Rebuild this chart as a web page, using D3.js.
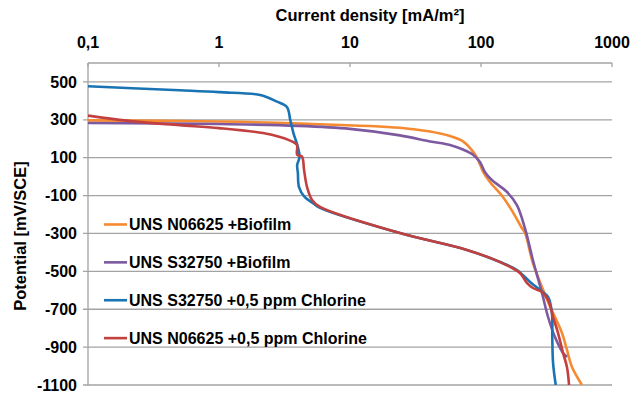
<!DOCTYPE html>
<html>
<head>
<meta charset="utf-8">
<script src="https://cdn.jsdelivr.net/npm/d3@7"></script>
<style>
  body { margin: 0; background: #fff; }
  svg text { font-family: "Liberation Sans", Arial, sans-serif; font-weight: bold; fill: #000; }
</style>
</head>
<body>
<svg id="chart" width="643" height="397"></svg>
<script>
// x: current density [mA/m2], y: potential [mV/SCE]
const seriesNames = ["UNS N06625 +Biofilm", "UNS S32750 +Biofilm", "UNS S32750 +0,5 ppm Chlorine", "UNS N06625 +0,5 ppm Chlorine"];
const seriesColors = ["#f58a30", "#7d5aa0", "#1a74b4", "#c2403e"];

const n06625Biofilm = [
  [0.1, 297], [1, 291], [4.15, 280], [24, 258], [40.8, 238], [58, 214], [72.9, 186], [86.9, 132],
  [94.8, 90], [103.5, 27], [117, -28], [147, -107], [175, -187], [205, -271], [217, -298],
  [249, -456], [292, -583], [325, -662], [367, -741], [415, -825], [453, -915], [495, -1005], [590, -1100]
];
const s32750Biofilm = [
  [0.1, 283], [1, 278], [4, 268], [10, 252], [24, 218], [40.8, 186], [58, 167], [72.9, 143],
  [86.9, 116], [98.2, 77], [107, 25], [121, -18], [158, -81], [188, -150], [217, -275],
  [249, -440], [292, -614], [325, -741], [367, -847], [423, -931], [453, -952]
];
const s32750Chlorine = [
  [0.1, 477], [0.5, 456], [1, 446], [2.06, 431], [2.77, 396], [3.3, 368], [3.5, 299], [3.7, 230],
  [4.0, 156], [4.12, 104], [3.95, 61], [4.0, 20], [4.08, -55], [4.5, -107], [5.2, -139], [5.9, -165],
  [24, -298], [78, -387], [140, -451], [188, -493], [237, -556], [282, -598], [325, -635],
  [348, -720], [350, -847], [355, -984], [372, -1100]
];
const n06625Chlorine = [
  [0.1, 322], [0.22, 292], [0.5, 272], [1, 256], [2.17, 230], [2.92, 209], [3.67, 183], [3.94, 167],
  [3.95, 116], [4.3, 106], [4.46, 35], [4.7, -55], [5.13, -123], [5.9, -160], [24, -298],
  [78, -387], [140, -451], [198, -509], [224, -561], [249, -588], [292, -609], [325, -651],
  [355, -741], [387, -825], [423, -931], [453, -1005], [470, -1100]
];
const seriesData = [n06625Biofilm, s32750Biofilm, s32750Chlorine, n06625Chlorine];

const xTicks = [0.1, 1, 10, 100, 1000];
const xTickLabels = ["0,1", "1", "10", "100", "1000"];
const yTicks = [500, 300, 100, -100, -300, -500, -700, -900, -1100];
const legendAt = [-300, -500, -700, -900];

const svg = d3.select("#chart");
const x = d3.scaleLog().domain([0.1, 1000]).range([88, 612]);
const y = d3.scaleLinear().domain([-1100, 600]).range([385, 63]);

// gridlines + left ticks
svg.append("g").selectAll("line")
  .data(yTicks)
  .enter().append("line")
  .attr("x1", x(0.1) - 5).attr("x2", x(1000))
  .attr("y1", d => y(d)).attr("y2", d => y(d))
  .attr("stroke", "#a3a3a3").attr("stroke-width", 1.3);

svg.append("g").selectAll("text")
  .data(yTicks)
  .enter().append("text")
  .attr("x", x(0.1) - 11).attr("y", d => y(d))
  .attr("dy", "0.35em")
  .attr("text-anchor", "end")
  .style("font-size", "16px")
  .text(d => d);

// left axis line
svg.append("line")
  .attr("x1", x(0.1)).attr("x2", x(0.1))
  .attr("y1", y(600)).attr("y2", y(-1100))
  .attr("stroke", "#a3a3a3").attr("stroke-width", 1.3);

// top axis
svg.append("line")
  .attr("x1", x(0.1)).attr("x2", x(1000))
  .attr("y1", y(600)).attr("y2", y(600))
  .attr("stroke", "#a3a3a3").attr("stroke-width", 1.3);

svg.append("g").selectAll("line")
  .data(xTicks)
  .enter().append("line")
  .attr("x1", d => x(d)).attr("x2", d => x(d))
  .attr("y1", y(600)).attr("y2", y(600) + 4)
  .attr("stroke", "#a3a3a3").attr("stroke-width", 1.3);

svg.append("g").selectAll("text")
  .data(xTicks)
  .enter().append("text")
  .attr("x", d => x(d)).attr("y", 48)
  .attr("text-anchor", "middle")
  .style("font-size", "16px")
  .text((d, i) => xTickLabels[i]);

svg.append("text")
  .attr("x", 370).attr("y", 21)
  .attr("text-anchor", "middle")
  .style("font-size", "16.5px")
  .text("Current density [mA/m²]");

svg.append("text")
  .attr("transform", "translate(26,236) rotate(-90)")
  .attr("text-anchor", "middle")
  .style("font-size", "16.5px")
  .text("Potential [mV/SCE]");

// curves
svg.append("clipPath").attr("id", "plot-clip")
  .append("rect")
  .attr("x", x(0.1)).attr("y", y(600))
  .attr("width", x(1000) - x(0.1)).attr("height", y(-1100) - y(600));

const line = d3.line()
  .x(d => x(d[0]))
  .y(d => y(d[1]))
  .curve(d3.curveCatmullRom.alpha(0.5));

svg.append("g").attr("clip-path", "url(#plot-clip)")
  .selectAll("path")
  .data(seriesData)
  .enter().append("path")
  .attr("d", line)
  .attr("fill", "none")
  .attr("stroke", (d, i) => seriesColors[i])
  .attr("stroke-width", 2.6)
  .attr("stroke-linejoin", "round");

// legend
const legend = svg.append("g").selectAll("g")
  .data(seriesNames)
  .enter().append("g")
  .attr("transform", (d, i) => `translate(0,${y(legendAt[i]) - 9})`);

legend.append("line")
  .attr("x1", 104).attr("x2", 127)
  .attr("stroke", (d, i) => seriesColors[i])
  .attr("stroke-width", 2.6);

legend.append("text")
  .attr("x", 129).attr("dy", "0.36em")
  .style("font-size", "16px")
  .text(d => d);
</script>
</body>
</html>
